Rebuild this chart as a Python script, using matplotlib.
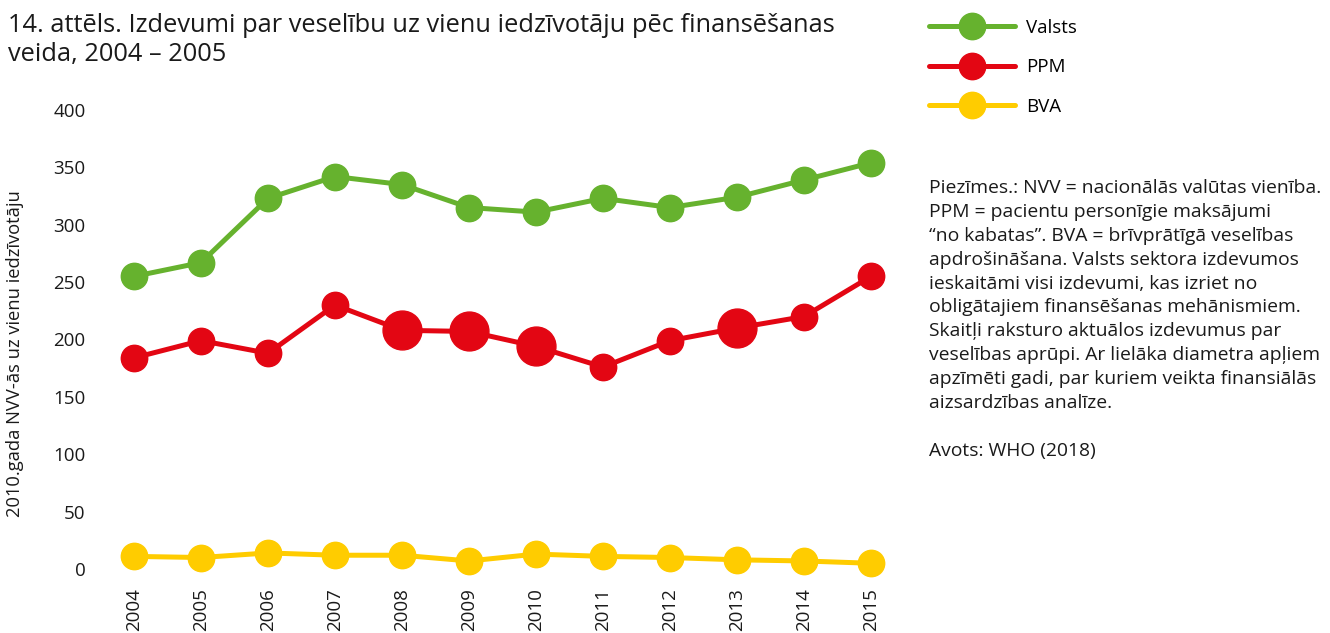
import numpy as np
import matplotlib
matplotlib.use("Agg")
import matplotlib.pyplot as plt

plt.rcParams['font.family'] = ['Open Sans', 'DejaVu Sans']

# data
years = ['2004', '2005', '2006', '2007', '2008', '2009', '2010', '2011', '2012', '2013', '2014', '2015']
valsts = [255, 267, 323, 342, 335, 315, 311, 323, 315, 324, 339, 354]
ppm = [184, 199, 188, 230, 208, 207, 194, 176, 199, 210, 220, 255]
bva = [11, 10, 14, 12, 12, 7, 13, 11, 10, 8, 7, 5]
# years with financial protection analysis (bigger circles)
analysed = ['2008', '2009', '2010', '2013']

labels = ['Valsts', 'PPM', 'BVA']
colors = ['#66b22e', '#e30613', '#ffcc00']

title = "14. attēls. Izdevumi par veselību uz vienu iedzīvotāju pēc finansēšanas\nveida, 2004 – 2005"
ylabel = "2010.gada NVV-ās uz vienu iedzīvotāju"
notes = ("Piezīmes.: NVV = nacionālās valūtas vienība.\n"
         "PPM = pacientu personīgie maksājumi\n"
         "“no kabatas”. BVA = brīvprātīgā veselības\n"
         "apdrošināšana. Valsts sektora izdevumos\n"
         "ieskaitāmi visi izdevumi, kas izriet no\n"
         "obligātajiem finansēšanas mehānismiem.\n"
         "Skaitļi raksturo aktuālos izdevumus par\n"
         "veselības aprūpi. Ar lielāka diametra apļiem\n"
         "apzīmēti gadi, par kuriem veikta finansiālās\n"
         "aizsardzības analīze.\n"
         "\n"
         "Avots: WHO (2018)")

W, H = 1330, 633
fig = plt.figure(figsize=(W / 100, H / 100), dpi=100)
ax = fig.add_axes([105 / W, 1 - 569 / H, (900 - 105) / W, (569 - 110) / H])

x = np.arange(len(years))
handles = []
for vals, lab, col in zip([valsts, ppm, bva], labels, colors):
    h, = ax.plot(x, vals, color=col, lw=3.6, marker='o', ms=19, mec=col,
                 label=lab, clip_on=False, solid_capstyle='round', zorder=3)
    handles.append(h)
    if lab == 'PPM':
        idx = [years.index(y) for y in analysed]
        ax.plot(x[idx], np.array(vals)[idx], ls='none', marker='o', ms=28,
                color=col, clip_on=False, zorder=4)

ax.set_xlim(-29 / 67, 11 + 29 / 67)
ax.set_ylim(0, 400)
ax.set_yticks(range(0, 401, 50))
ax.set_xticks(x)
ax.set_xticklabels(years, rotation=90)
ax.tick_params(length=0, labelsize=13.5, colors='#1a1a1a')
ax.tick_params(axis='y', pad=14)
ax.tick_params(axis='x', pad=14)
for s in ax.spines.values():
    s.set_visible(False)

fig.text(15 / W, 1 - 354 / H, ylabel, rotation=90, ha='center', va='center',
         fontsize=13.2, color='#1a1a1a')

fig.text(8 / W, 1 - 13 / H, title, ha='left', va='top', fontsize=18.3,
         linespacing=1.2, color='#1a1a1a')

fig.legend(handles=handles, loc='upper left', bbox_to_anchor=(912 / W, 1 - 2 / H),
           frameon=False, fontsize=13.5, handlelength=4.6, labelspacing=1.15,
           handletextpad=0.6, markerscale=1.0)

fig.text(929 / W, 1 - 179 / H, notes, ha='left', va='top', fontsize=13.9,
         linespacing=1.42, color='#1a1a1a')

fig.savefig('out.png', dpi=100)
